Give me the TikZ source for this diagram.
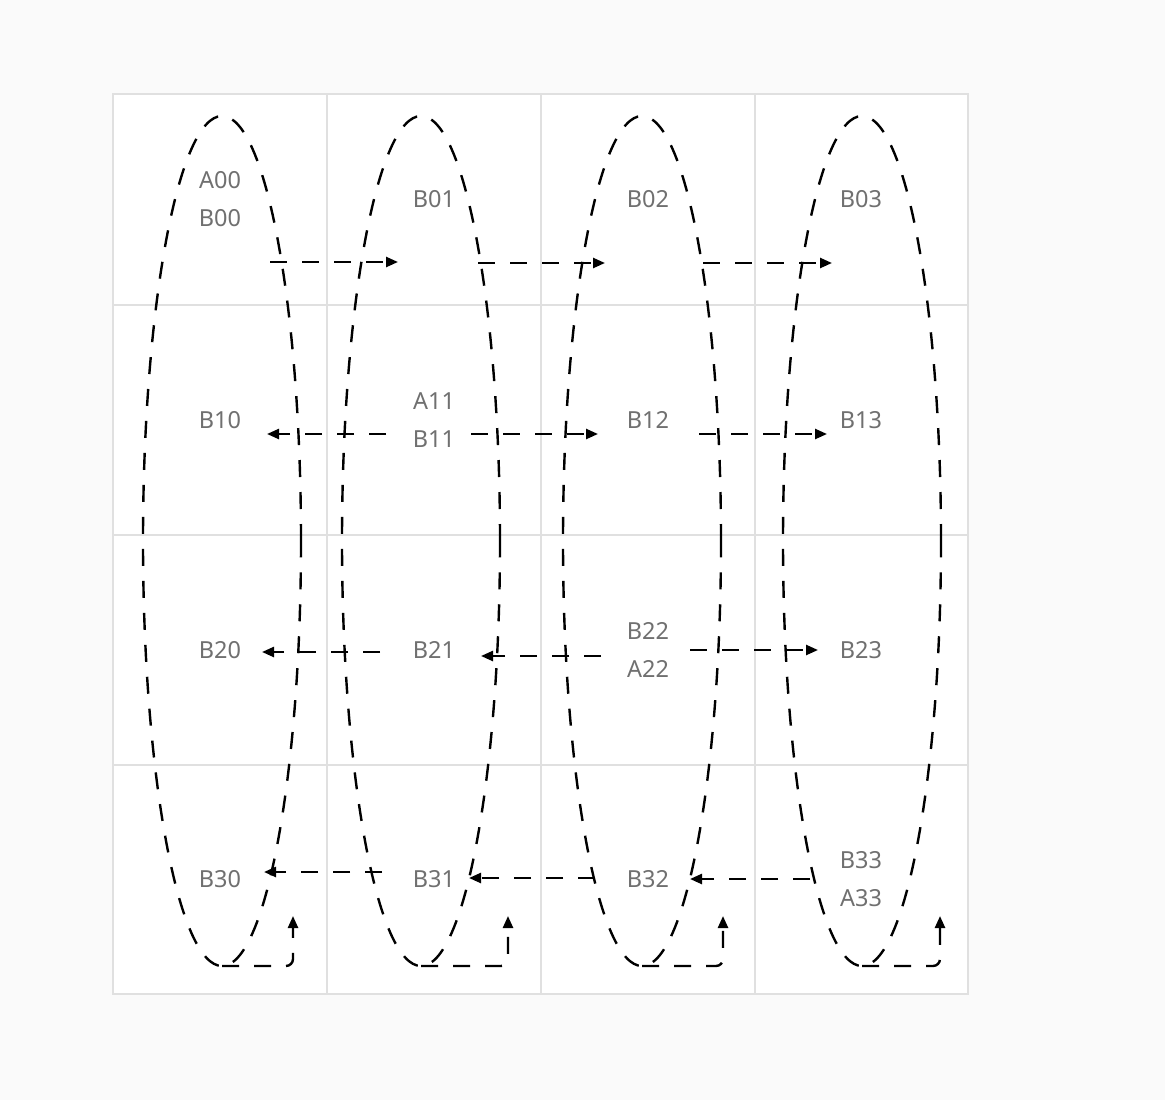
\documentclass[tikz,border=0pt]{standalone}
\usepackage{fontspec}
\setmainfont{Noto Sans}
\usetikzlibrary{arrows.meta,shapes.geometric}
\definecolor{bgc}{HTML}{FAFAFA}
\definecolor{gridc}{HTML}{E0E0E0}
\definecolor{txtc}{HTML}{707070}
\begin{document}
\begin{tikzpicture}[x=1pt,y=-1pt,
  loope/.style={ellipse,draw=black,line width=2.4pt,dash pattern=on 17pt off 15pt,
    minimum width=158pt,minimum height=850pt,inner sep=0pt,outer sep=0pt},
  conn/.style={draw=black,line width=2.4pt,dash pattern=on 17pt off 15pt,
    -{Triangle[length=12pt,width=10pt]}},
  lbl/.style={text=txtc,font=\fontsize{23.5}{38}\selectfont,align=center,inner sep=0pt},
  gridl/.style={draw=gridc,line width=1.3pt}]
\useasboundingbox (0,0) rectangle (1165,1100);
\fill[bgc] (0,0) rectangle (1165,1100);
\fill[white] (113,94) rectangle (968,994);
% grid
\draw[gridl] (113,94) rectangle (968,994);
\foreach \x in {327,541,755} \draw[gridl] (\x,94) -- (\x,994);
\foreach \y in {305,535,765} \draw[gridl] (113,\y) -- (968,\y);
% loops
\node[loope] (e0) at (222,541) {};
\node[loope] (e1) at (421,541) {};
\node[loope] (e2) at (642,541) {};
\node[loope] (e3) at (862,541) {};
% bottom returns
\coordinate (u0) at (293,916); \coordinate (c0) at (293,966);
\coordinate (u1) at (508,916); \coordinate (c1) at (508,966);
\coordinate (u2) at (723,916); \coordinate (c2) at (723,966);
\coordinate (u3) at (940,916); \coordinate (c3) at (940,966);
\draw[conn,rounded corners=7pt] (e0.south) -- (c0) -- (u0);
\draw[conn,rounded corners=7pt] (e1.south) -- (c1) -- (u1);
\draw[conn,rounded corners=7pt] (e2.south) -- (c2) -- (u2);
\draw[conn,rounded corners=7pt] (e3.south) -- (c3) -- (u3);
% row 0
\coordinate (r0a) at (270,262); \coordinate (r0b) at (398,262);
\coordinate (r0c) at (478,263); \coordinate (r0d) at (605,263);
\coordinate (r0e) at (703,263); \coordinate (r0f) at (832,263);
\draw[conn] (r0a) -- (r0b);
\draw[conn] (r0c) -- (r0d);
\draw[conn] (r0e) -- (r0f);
% row 1
\coordinate (r1a) at (386,434); \coordinate (r1b) at (267,434);
\coordinate (r1c) at (471,434); \coordinate (r1d) at (598,434);
\coordinate (r1e) at (699,434); \coordinate (r1f) at (827,434);
\draw[conn] (r1a) -- (r1b);
\draw[conn] (r1c) -- (r1d);
\draw[conn] (r1e) -- (r1f);
% row 2
\coordinate (r2a) at (380,652); \coordinate (r2b) at (262,652);
\coordinate (r2c) at (601,656); \coordinate (r2d) at (481,656);
\coordinate (r2e) at (690,650); \coordinate (r2f) at (818,650);
\draw[conn] (r2a) -- (r2b);
\draw[conn] (r2c) -- (r2d);
\draw[conn] (r2e) -- (r2f);
% row 3
\coordinate (r3a) at (382,872); \coordinate (r3b) at (264,872);
\coordinate (r3c) at (595,878); \coordinate (r3d) at (469,878);
\coordinate (r3e) at (810,879); \coordinate (r3f) at (690,879);
\draw[conn] (r3a) -- (r3b);
\draw[conn] (r3c) -- (r3d);
\draw[conn] (r3e) -- (r3f);
% labels
\node[lbl] (l00) at (220,199.5) {A00\\B00};
\node[lbl] (l01) at (434,199.5) {B01};
\node[lbl] (l02) at (648,199.5) {B02};
\node[lbl] (l03) at (861,199.5) {B03};
\node[lbl] (l10) at (220,420) {B10};
\node[lbl] (l11) at (434,420) {A11\\B11};
\node[lbl] (l12) at (648,420) {B12};
\node[lbl] (l13) at (861,420) {B13};
\node[lbl] (l20) at (220,650) {B20};
\node[lbl] (l21) at (434,650) {B21};
\node[lbl] (l22) at (648,650) {B22\\A22};
\node[lbl] (l23) at (861,650) {B23};
\node[lbl] (l30) at (220,879.5) {B30};
\node[lbl] (l31) at (434,879.5) {B31};
\node[lbl] (l32) at (648,879.5) {B32};
\node[lbl] (l33) at (861,879.5) {B33\\A33};
\end{tikzpicture}
\end{document}
